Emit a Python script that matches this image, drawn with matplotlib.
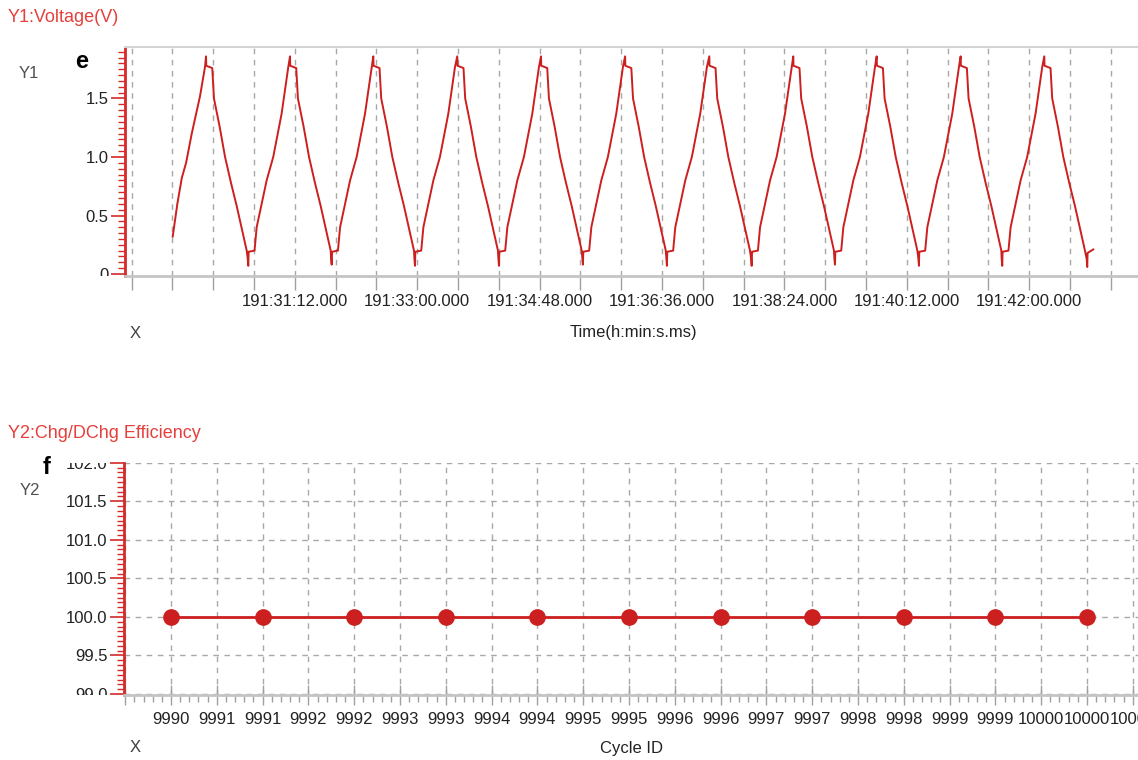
import matplotlib
matplotlib.use("Agg")
import matplotlib.pyplot as plt
import numpy as np
from matplotlib.ticker import MultipleLocator
from matplotlib.transforms import Bbox, TransformedBbox

W, H = 1138, 760
plt.rcParams['font.family'] = ['Liberation Sans', 'DejaVu Sans']

# ---- panel e : voltage vs time (seconds after 191:28:48.000) ----
time_s = [
    36.2, 40.3, 44.2, 48.0, 53.0, 60.3, 64.7,
    65.6, 65.8, 71.1, 72.6, 77.6, 82.4, 87.6, 92.7, 97.6, 101.5,
    102.4, 102.9, 103.2, 108.4, 110.3, 114.7, 119.1, 124.9, 132.3, 138.2,
    139.7, 139.9, 145.2, 146.7, 151.7, 156.5, 161.7, 166.8, 171.7, 175.6,
    176.0, 176.5, 176.8, 182.0, 183.9, 188.3, 192.7, 198.5, 205.9, 211.8,
    213.2, 213.4, 218.7, 220.2, 225.2, 230.0, 235.2, 240.3, 245.2, 249.1,
    249.5, 250.0, 250.3, 255.5, 257.4, 261.8, 266.2, 272.0, 279.4, 285.3,
    287.3, 287.5, 292.8, 294.3, 299.3, 304.1, 309.3, 314.4, 319.3, 323.2,
    323.6, 324.1, 324.4, 329.6, 331.5, 335.9, 340.3, 346.1, 353.5, 359.4,
    361.2, 361.4, 366.7, 368.2, 373.2, 378.0, 383.2, 388.3, 393.2, 397.1,
    397.7, 398.2, 398.5, 403.7, 405.6, 410.0, 414.4, 420.2, 427.6, 433.5,
    435.4, 435.6, 440.9, 442.4, 447.4, 452.2, 457.4, 462.5, 467.4, 471.3,
    471.8, 472.3, 472.6, 477.8, 479.7, 484.1, 488.5, 494.3, 501.7, 507.6,
    509.7, 509.9, 515.2, 516.7, 521.7, 526.5, 531.7, 536.8, 541.7, 545.6,
    546.6, 547.1, 547.4, 552.6, 554.5, 558.9, 563.3, 569.1, 576.5, 582.4,
    583.8, 584.0, 589.3, 590.8, 595.8, 600.6, 605.8, 610.9, 615.8, 619.7,
    620.1, 620.6, 620.9, 626.1, 628.0, 632.4, 636.8, 642.6, 650.0, 655.9,
    657.4, 657.6, 662.9, 664.4, 669.4, 674.2, 679.4, 684.5, 689.4, 693.3,
    694.2, 694.7, 695.0, 700.2, 702.1, 706.5, 710.9, 716.7, 724.1, 730.0,
    731.5, 731.7, 737.0, 738.5, 743.5, 748.3, 753.5, 758.6, 763.5, 767.4,
    767.7, 768.2, 768.5, 773.7, 775.6, 780.0, 784.4, 790.2, 797.6, 803.5,
    805.3, 805.5, 810.8, 812.3, 817.3, 822.1, 827.3, 832.4, 837.3, 841.2,
    842.7, 843.2, 843.5, 848.5,
]
voltage = [
    0.32, 0.60, 0.82, 0.95, 1.20, 1.52, 1.77,
    1.86, 1.78, 1.76, 1.50, 1.26, 1.00, 0.78, 0.58, 0.37, 0.20,
    0.13, 0.07, 0.19, 0.20, 0.40, 0.60, 0.80, 1.00, 1.37, 1.77,
    1.86, 1.78, 1.76, 1.50, 1.26, 1.00, 0.78, 0.58, 0.37, 0.20,
    0.13, 0.08, 0.19, 0.20, 0.40, 0.60, 0.80, 1.00, 1.37, 1.77,
    1.86, 1.78, 1.76, 1.50, 1.26, 1.00, 0.78, 0.58, 0.37, 0.20,
    0.13, 0.07, 0.19, 0.20, 0.40, 0.60, 0.80, 1.00, 1.37, 1.77,
    1.86, 1.78, 1.76, 1.50, 1.26, 1.00, 0.78, 0.58, 0.37, 0.20,
    0.13, 0.07, 0.19, 0.20, 0.40, 0.60, 0.80, 1.00, 1.37, 1.77,
    1.86, 1.78, 1.76, 1.50, 1.26, 1.00, 0.78, 0.58, 0.37, 0.20,
    0.13, 0.08, 0.19, 0.20, 0.40, 0.60, 0.80, 1.00, 1.37, 1.77,
    1.86, 1.78, 1.76, 1.50, 1.26, 1.00, 0.78, 0.58, 0.37, 0.20,
    0.13, 0.07, 0.19, 0.20, 0.40, 0.60, 0.80, 1.00, 1.37, 1.77,
    1.86, 1.78, 1.76, 1.50, 1.26, 1.00, 0.78, 0.58, 0.37, 0.20,
    0.13, 0.07, 0.19, 0.20, 0.40, 0.60, 0.80, 1.00, 1.37, 1.77,
    1.86, 1.78, 1.76, 1.50, 1.26, 1.00, 0.78, 0.58, 0.37, 0.20,
    0.13, 0.08, 0.19, 0.20, 0.40, 0.60, 0.80, 1.00, 1.37, 1.77,
    1.86, 1.78, 1.76, 1.50, 1.26, 1.00, 0.78, 0.58, 0.37, 0.20,
    0.13, 0.07, 0.19, 0.20, 0.40, 0.60, 0.80, 1.00, 1.37, 1.77,
    1.86, 1.78, 1.76, 1.50, 1.26, 1.00, 0.78, 0.58, 0.37, 0.20,
    0.13, 0.07, 0.19, 0.20, 0.40, 0.60, 0.80, 1.00, 1.37, 1.77,
    1.86, 1.78, 1.76, 1.50, 1.26, 1.00, 0.78, 0.58, 0.37, 0.20,
    0.13, 0.06, 0.18, 0.21,
]
time_ticks = list(range(0, 865, 36))
time_labels = ["", "", "", "", "191:31:12.000", "", "", "191:33:00.000", "", "",
               "191:34:48.000", "", "", "191:36:36.000", "", "", "191:38:24.000",
               "", "", "191:40:12.000", "", "", "191:42:00.000", "", ""]
volt_ticks = [0, 0.5, 1.0, 1.5]
volt_labels = ["0", "0.5", "1.0", "1.5"]

# ---- panel f : efficiency vs cycle ----
cycle_id = [9990, 9991, 9992, 9993, 9994, 9995, 9996, 9997, 9998, 9999, 10000]
efficiency = [100.0, 100.0, 100.0, 100.0, 100.0, 100.0, 100.0, 100.0, 100.0, 100.0, 100.0]
eff_ticks = [99.0, 99.5, 100.0, 100.5, 101.0, 101.5, 102.0]

RED = '#cc1f1f'
SPINE_RED = '#d42a2a'
TITLE_RED = '#e5403c'
GRID = '#a8a8a8'
AXGRAY = '#c4c4c4'


def fx(x):
    return x / W


def fy(y):
    return 1 - y / H


def clip_labels(ax, labels):
    # the original tool cuts tick labels at the plot frame
    box = TransformedBbox(Bbox.from_extents(-0.2, 0, 1, 1), ax.transAxes)
    for t in labels:
        t.set_clip_box(box)
        t.set_clip_on(True)


def cycle_fmt(v, pos):
    if v < 9989.9:
        return ""
    return str(int(np.floor(v + 0.5)))


fig = plt.figure(figsize=(W / 100, H / 100), dpi=100)

# -------------------------
#  PANEL e
# -------------------------
ax1 = fig.add_axes([fx(125), fy(276), fx(1138) - fx(125), (276 - 47) / H])
ax1.plot(time_s, voltage, color=RED, lw=1.4)
ax1.set_xlim(-5.9, 888.0)
ax1.set_ylim(-0.017, 1.94)

ax1.set_xticks(time_ticks)
ax1.set_xticklabels(time_labels)
ax1.set_yticks(volt_ticks)
ax1.set_yticklabels(volt_labels)
ax1.yaxis.set_minor_locator(MultipleLocator(0.05))
ax1.grid(axis='x', color=GRID, ls=(0, (4, 4)), lw=1)

ax1.tick_params(axis='x', direction='out', length=10, color='#a0a0a0', width=1,
                pad=3, labelsize=12, labelcolor='#222222')
ax1.tick_params(axis='y', which='major', direction='out', length=10, color=SPINE_RED,
                width=1.2, pad=2, labelsize=12, labelcolor='#222222')
ax1.tick_params(axis='y', which='minor', direction='out', length=5, color=SPINE_RED, width=1)

ax1.spines['left'].set_color(SPINE_RED)
ax1.spines['left'].set_linewidth(2)
ax1.spines['bottom'].set_color(AXGRAY)
ax1.spines['bottom'].set_linewidth(2)
ax1.spines['top'].set_color('#d4d4d4')
ax1.spines['top'].set_linewidth(1.5)
ax1.spines['right'].set_visible(False)
clip_labels(ax1, ax1.get_yticklabels())

# -------------------------
#  PANEL f
# -------------------------
ax2 = fig.add_axes([fx(124), fy(695), fx(1138) - fx(124), (695 - 462.7) / H])
ax2.plot(cycle_id, efficiency, color=RED, lw=2, marker='o', markersize=11,
         markerfacecolor=RED, markeredgecolor=RED)
ax2.set_xlim(9989.487, 10000.557)
ax2.set_ylim(98.987, 102.0)

ax2.xaxis.set_major_locator(MultipleLocator(0.5))
ax2.xaxis.set_major_formatter(cycle_fmt)
ax2.xaxis.set_minor_locator(MultipleLocator(0.1))
ax2.set_yticks(eff_ticks)
ax2.set_yticklabels([f"{v:.1f}" for v in eff_ticks])
ax2.yaxis.set_minor_locator(MultipleLocator(0.0625))
ax2.grid(which='major', color=GRID, ls=(0, (4, 4)), lw=1)

ax2.tick_params(axis='x', which='major', direction='inout', length=14, color='#a0a0a0',
                width=1, pad=5, labelsize=12, labelcolor='#222222')
ax2.tick_params(axis='x', which='minor', direction='out', length=5, color='#a0a0a0', width=1)
ax2.tick_params(axis='y', which='major', direction='out', length=10, color=SPINE_RED,
                width=1.2, pad=2, labelsize=12, labelcolor='#222222')
ax2.tick_params(axis='y', which='minor', direction='out', length=5, color=SPINE_RED, width=1)

ax2.spines['left'].set_color(SPINE_RED)
ax2.spines['left'].set_linewidth(2)
ax2.spines['bottom'].set_color(AXGRAY)
ax2.spines['bottom'].set_linewidth(2)
ax2.spines['top'].set_visible(False)
ax2.spines['right'].set_visible(False)
clip_labels(ax2, ax2.get_yticklabels())

# -------------------------
#  TEXTS
# -------------------------
fig.text(fx(8), fy(18), "Y1:Voltage(V)", color=TITLE_RED, fontsize=13, ha='left', va='center')
fig.text(fx(29), fy(74), "Y1", color='#505050', fontsize=12, ha='center', va='center')
fig.text(fx(82), fy(62), "e", fontsize=17, fontweight='bold', ha='center', va='center')
fig.text(fx(135), fy(333), "X", color='#404040', fontsize=12, ha='center', va='center')
fig.text(fx(633), fy(333), "Time(h:min:s.ms)", color='#222222', fontsize=12, ha='center', va='center')

fig.text(fx(8), fy(434), "Y2:Chg/DChg Efficiency", color=TITLE_RED, fontsize=13, ha='left', va='center')
fig.text(fx(47), fy(467), "f", fontsize=17, fontweight='bold', ha='center', va='center')
fig.text(fx(30), fy(491), "Y2", color='#505050', fontsize=12, ha='center', va='center')
fig.text(fx(135), fy(748), "X", color='#404040', fontsize=12, ha='center', va='center')
fig.text(fx(631), fy(748), "Cycle ID", color='#222222', fontsize=12, ha='center', va='center')

fig.savefig("out.png", dpi=100)
